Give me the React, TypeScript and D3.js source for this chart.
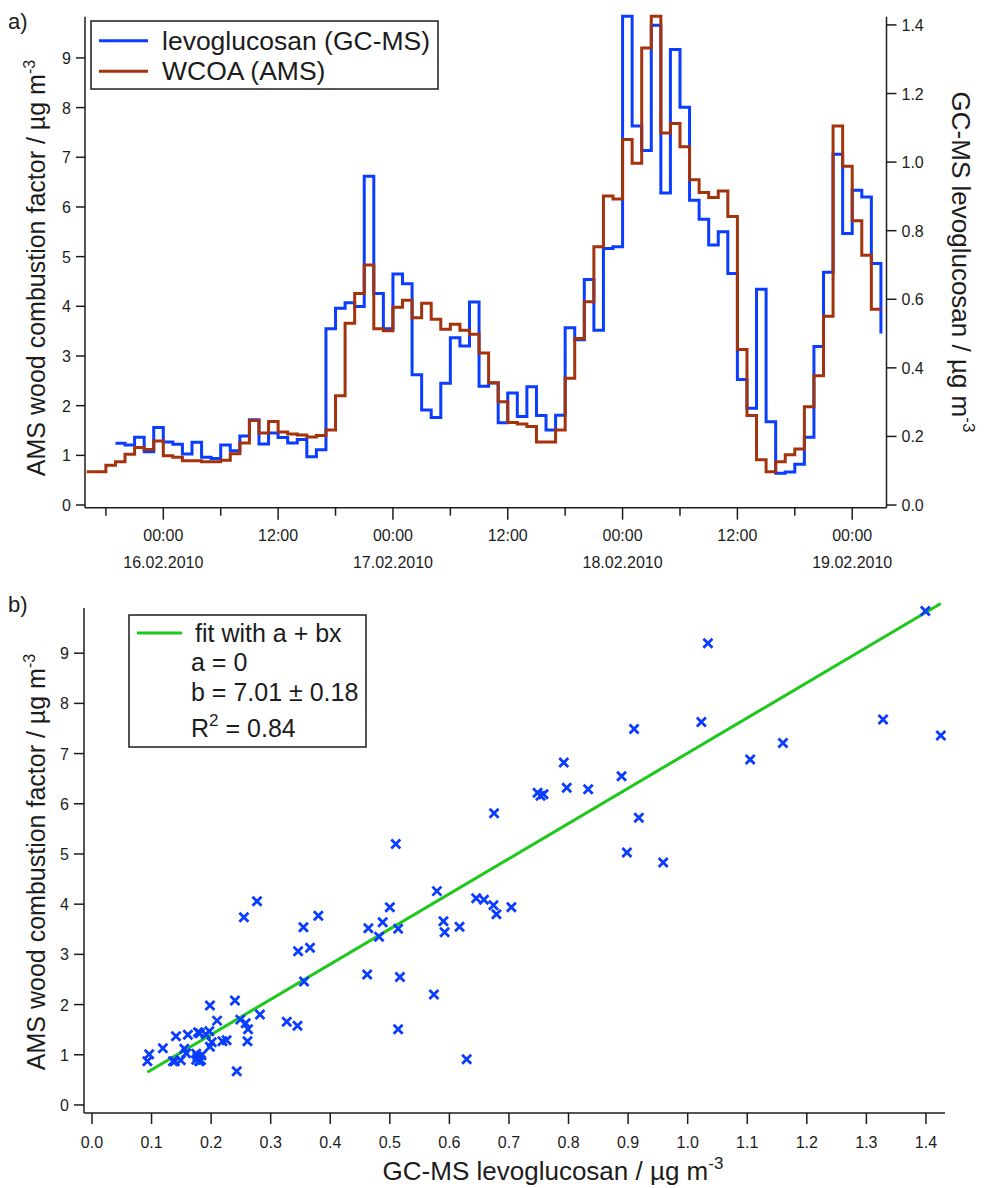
import React from 'react';
import * as d3 from 'd3';

// a) hourly time series
const wcoaStart = new Date(2010, 1, 15, 16, 0);
const levoStart = new Date(2010, 1, 15, 19, 0);

// WCOA (AMS), ug/m3, hourly
const wcoa = [
	0.67, 0.67, 0.8, 0.87, 1.02, 1.16, 1.12, 1.29,
	0.99, 0.96, 0.89, 0.89, 0.87, 0.87, 0.9, 1.03, 1.25, 1.7,
	1.45, 1.68, 1.47, 1.43, 1.41, 1.37, 1.4, 1.51, 2.2, 3.66,
	4.26, 4.83, 3.55, 3.51, 3.98, 4.12, 3.77, 4.06, 3.74, 3.54,
	3.64, 3.52, 3.44, 3.06, 2.46, 2.08, 1.66, 1.63, 1.58, 1.27,
	1.27, 1.51, 2.55, 3.35, 4.09, 5.2, 6.22, 6.16, 7.36, 6.88,
	9.2, 9.84, 7.49, 7.68, 7.21, 6.55, 6.29, 6.19, 6.32, 5.81,
	3.13, 1.8, 0.91, 0.67, 0.87, 1.01, 1.13, 1.98, 2.6, 3.8,
	7.63, 6.82, 5.72, 5.03, 3.94, 3.94,
];

// levoglucosan (GC-MS), ug/m3, hourly
const levo = [
	0.18, 0.175, 0.198, 0.155, 0.226,
	0.184, 0.177, 0.149, 0.183, 0.139, 0.136, 0.175, 0.158, 0.201, 0.249,
	0.178, 0.21, 0.197, 0.181, 0.191, 0.141, 0.161, 0.514, 0.574, 0.59,
	0.579, 0.959, 0.617, 0.514, 0.674, 0.645, 0.38, 0.277, 0.255, 0.355,
	0.488, 0.464, 0.592, 0.346, 0.356, 0.24, 0.327, 0.258, 0.345, 0.261,
	0.219, 0.262, 0.517, 0.482, 0.658, 0.51, 0.748, 0.753, 1.425, 1.105,
	1.034, 1.399, 0.91, 1.328, 1.16, 0.889, 0.833, 0.758, 0.797, 0.675,
	0.366, 0.282, 0.629, 0.243, 0.093, 0.096, 0.119, 0.198, 0.462, 0.679,
	1.023, 0.792, 0.918, 0.898, 0.704, 0.5,
];

const legendA = ['levoglucosan (GC-MS)', 'WCOA (AMS)'];

// b) fit result
const fitA = 0;
const fitB = 7.01;
const fitBErr = 0.18;
const fitR2 = 0.84;

const font = '"Liberation Sans", Arial, Helvetica, sans-serif';
const ink = '#1c1c1c';
const levoColor = '#0a3dff';
const wcoaColor = '#a3330c';
const fitColor = '#1cc81a';

const fmtHM = d3.timeFormat('%H:%M');
const fmtDate = d3.timeFormat('%d.%m.%Y');

export default function App() {
	// panel a scales
	const xA = d3
		.scaleTime()
		.domain([new Date(2010, 1, 15, 15, 49), new Date(2010, 1, 19, 3, 35)])
		.range([85, 886.5]);
	const yL = d3.scaleLinear().domain([-0.054, 9.83]).range([507.7, 16.7]);
	const yR = d3.scaleLinear().domain([-0.0078, 1.424]).range([507.7, 16.7]);

	const wcoaPts = wcoa.map((v, i) => ({ t: d3.timeHour.offset(wcoaStart, i), v }));
	const levoPts = levo.map((v, i) => ({ t: d3.timeHour.offset(levoStart, i), v }));

	const wcoaLine = d3
		.line<{ t: Date; v: number }>()
		.x((d) => xA(d.t))
		.y((d) => yL(d.v))
		.curve(d3.curveStepAfter);
	const levoLine = d3
		.line<{ t: Date; v: number }>()
		.x((d) => xA(d.t))
		.y((d) => yR(d.v))
		.curve(d3.curveStepAfter);

	const timeTicks = xA.ticks(d3.timeHour.every(6));

	// panel b: pair samples taken at the same hour
	const lag = d3.timeHour.count(wcoaStart, levoStart);
	const pairs = levo.map((x, i) => ({ x, y: wcoa[i + lag] }));

	const xB = d3.scaleLinear().domain([-0.0134, 1.432]).range([84, 945]);
	const yB = d3.scaleLinear().domain([-0.16, 9.9]).range([1113, 608]);
	const fitX = d3.extent(pairs, (d) => d.x) as [number, number];

	const [a0, a1] = xA.range();
	const [aB, aT] = yL.range();
	const [b0, b1] = xB.range();
	const [bB, bT] = yB.range();

	return (
		<div style={{ position: 'absolute', left: 0, top: 0 }}>
			<svg width={985} height={1188} style={{ display: 'block', background: '#fff' }} fontFamily={font}>
				{/* ---------- panel a ---------- */}
				<text x={8} y={29} fontSize={22} fill={ink}>a)</text>

				<path d={levoLine(levoPts) || ''} fill="none" stroke={levoColor} strokeWidth={3} />
				<path d={wcoaLine(wcoaPts) || ''} fill="none" stroke={wcoaColor} strokeWidth={3} />

				{/* left axis */}
				<line x1={a0} x2={a0} y1={aT} y2={aB} stroke={ink} strokeWidth={1.5} />
				{yL.ticks(10).map((v) => (
					<g key={'yl' + v}>
						<line x1={a0 - 9} x2={a0} y1={yL(v)} y2={yL(v)} stroke={ink} strokeWidth={1.5} />
						<text x={a0 - 14} y={yL(v) + 6} fontSize={16} textAnchor="end" fill={ink}>{v}</text>
					</g>
				))}
				{/* right axis */}
				<line x1={a1} x2={a1} y1={aT} y2={aB} stroke={ink} strokeWidth={1.5} />
				{yR.ticks(7).map((v) => (
					<g key={'yr' + v}>
						<line x1={a1} x2={a1 + 10} y1={yR(v)} y2={yR(v)} stroke={ink} strokeWidth={1.5} />
						<text x={a1 + 15} y={yR(v) + 6} fontSize={16} fill={ink}>{d3.format('.1f')(v)}</text>
					</g>
				))}
				{/* bottom time axis */}
				<line x1={a0} x2={a1} y1={aB} y2={aB} stroke={ink} strokeWidth={1.5} />
				{timeTicks.map((t) => {
					const major = t.getHours() % 12 === 0;
					const x = xA(t);
					return (
						<g key={'t' + t.getTime()}>
							<line x1={x} x2={x} y1={aB} y2={aB + (major ? 12 : 8)} stroke={ink} strokeWidth={1.5} />
							{major && (
								<text x={x} y={541} fontSize={16} textAnchor="middle" fill={ink}>{fmtHM(t)}</text>
							)}
							{major && t.getHours() === 0 && (
								<text x={x} y={568} fontSize={16} textAnchor="middle" fill={ink}>{fmtDate(t)}</text>
							)}
						</g>
					);
				})}

				<text transform="translate(45,268) rotate(-90)" fontSize={25} textAnchor="middle" fill={ink}>
					AMS wood combustion factor / µg m<tspan dy={-10} fontSize={16}>-3</tspan>
				</text>
				<text transform="translate(952,262) rotate(90)" fontSize={26} textAnchor="middle" fill={ink}>
					GC-MS levoglucosan / µg m<tspan dy={-11} fontSize={17}>-3</tspan>
				</text>

				{/* legend a */}
				<rect x={91} y={21} width={347} height={68} fill="#fff" stroke={ink} strokeWidth={1.5} />
				{legendA.map((name, i) => (
					<g key={name}>
						<line x1={99} x2={148} y1={40.7 + i * 30.5} y2={40.7 + i * 30.5} stroke={i === 0 ? levoColor : wcoaColor} strokeWidth={3} />
						<text x={162} y={49.5 + i * 30.5} fontSize={26.5} fill={ink}>{name}</text>
					</g>
				))}

				{/* ---------- panel b ---------- */}
				<text x={8} y={612} fontSize={22} fill={ink}>b)</text>

				<line
					x1={xB(fitX[0])}
					y1={yB(fitA + fitB * fitX[0])}
					x2={xB(fitX[1])}
					y2={yB(fitA + fitB * fitX[1])}
					stroke={fitColor}
					strokeWidth={3}
				/>
				{pairs.map((d, i) => (
					<path
						key={'p' + i}
						transform={`translate(${xB(d.x)},${yB(d.y)})`}
						d="M-4.5,-4.5L4.5,4.5M4.5,-4.5L-4.5,4.5"
						stroke={levoColor}
						strokeWidth={2.8}
						fill="none"
					/>
				))}

				<line x1={b0} x2={b0} y1={bT} y2={bB} stroke={ink} strokeWidth={1.5} />
				{yB.ticks(10).map((v) => (
					<g key={'yb' + v}>
						<line x1={b0 - 10} x2={b0} y1={yB(v)} y2={yB(v)} stroke={ink} strokeWidth={1.5} />
						<text x={b0 - 15} y={yB(v) + 6} fontSize={16} textAnchor="end" fill={ink}>{v}</text>
					</g>
				))}
				<line x1={b0} x2={b1} y1={bB} y2={bB} stroke={ink} strokeWidth={1.5} />
				{xB.ticks(14).map((v) => (
					<g key={'xb' + v}>
						<line x1={xB(v)} x2={xB(v)} y1={bB} y2={bB + 11} stroke={ink} strokeWidth={1.5} />
						<text x={xB(v)} y={1148} fontSize={16} textAnchor="middle" fill={ink}>{d3.format('.1f')(v)}</text>
					</g>
				))}

				<text transform="translate(45,862) rotate(-90)" fontSize={25} textAnchor="middle" fill={ink}>
					AMS wood combustion factor / µg m<tspan dy={-10} fontSize={16}>-3</tspan>
				</text>
				<text x={553} y={1180} fontSize={26} textAnchor="middle" fill={ink}>
					GC-MS levoglucosan / µg m<tspan dy={-11} fontSize={17}>-3</tspan>
				</text>

				{/* legend b */}
				<rect x={129} y={615} width={237} height={132} fill="#fff" stroke={ink} strokeWidth={1.5} />
				<line x1={137} x2={182} y1={633} y2={633} stroke={fitColor} strokeWidth={3} />
				<text x={195} y={642} fontSize={25} fill={ink}>fit with a + bx</text>
				<text x={191} y={671} fontSize={25} fill={ink}>a = {fitA}</text>
				<text x={191} y={701} fontSize={25} fill={ink}>b = {fitB.toFixed(2)} ± {fitBErr.toFixed(2)}</text>
				<text x={191} y={737} fontSize={25} fill={ink}>
					R<tspan dy={-11} fontSize={17}>2</tspan><tspan dy={11}> = {fitR2}</tspan>
				</text>
			</svg>
		</div>
	);
}
